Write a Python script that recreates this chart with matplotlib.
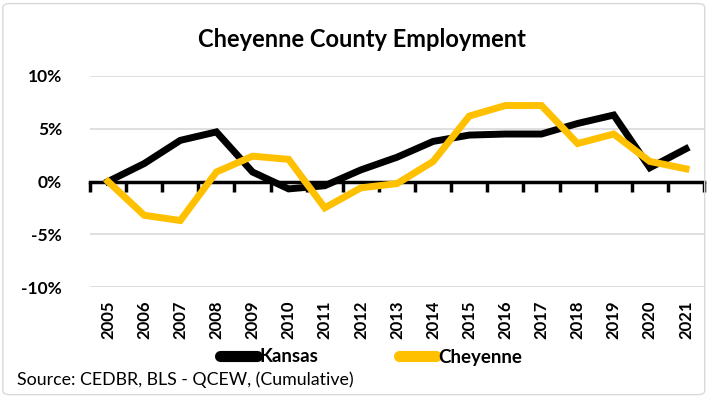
import matplotlib.pyplot as plt
import matplotlib.transforms as mtransforms
from matplotlib.lines import Line2D
from matplotlib.patches import FancyBboxPatch
from matplotlib.ticker import FuncFormatter

years = ['2005', '2006', '2007', '2008', '2009', '2010', '2011', '2012', '2013',
         '2014', '2015', '2016', '2017', '2018', '2019', '2020', '2021']
kansas = [0.0, 1.7, 3.9, 4.7, 0.9, -0.7, -0.4, 1.1, 2.3,
          3.8, 4.4, 4.5, 4.5, 5.5, 6.3, 1.3, 3.1]
cheyenne = [0.0, -3.2, -3.7, 0.9, 2.4, 2.1, -2.5, -0.6, -0.2,
            1.9, 6.2, 7.2, 7.2, 3.6, 4.5, 1.9, 1.2]
yticks = [-10, -5, 0, 5, 10]

KS_COLOR = 'black'
CH_COLOR = '#FFC000'

plt.rcParams['font.family'] = ['Lato', 'DejaVu Sans']

fig = plt.figure(figsize=(7.09, 3.97), dpi=100)
ax = fig.add_axes([90 / 709, 1 - 287 / 397, 614 / 709, 211 / 397])

x = list(range(len(years)))
ax.plot(x, kansas, color=KS_COLOR, linewidth=5, solid_joinstyle='miter', zorder=3)
ax.plot(x, cheyenne, color=CH_COLOR, linewidth=5, solid_joinstyle='miter', zorder=4)

ax.set_xlim(-0.5, len(years) - 0.5)
ax.set_ylim(-10, 10)
ax.set_yticks(yticks)
ax.yaxis.set_major_formatter(FuncFormatter(lambda v, p: f'{v:.0f}%'))
ax.tick_params(axis='y', length=0, pad=20, labelsize=12.5, labelcolor='black')
for lbl in ax.get_yticklabels():
    lbl.set_fontweight('bold')
ax.grid(axis='y', color='#d9d9d9', linewidth=1.2, zorder=0)

for side in ['top', 'right', 'left']:
    ax.spines[side].set_visible(False)

# category axis crosses at zero, tick marks between categories
ax.spines['bottom'].set_position(('data', 0))
ax.spines['bottom'].set_linewidth(2.5)
ax.spines['bottom'].set_zorder(2)
ax.set_xticks([i - 0.5 for i in range(len(years) + 1)])
ax.set_xticklabels([])
ax.tick_params(axis='x', direction='out', length=7, width=2.5, color='black')

# year labels sit below the plot area
trans = mtransforms.blended_transform_factory(ax.transData, ax.transAxes)
for i, yr in enumerate(years):
    ax.text(i, -0.065, yr, transform=trans, rotation=90, ha='center', va='top',
            fontsize=12, fontweight='bold')

fig.text(0.51, 0.90, 'Cheyenne County Employment', ha='center', va='center',
         fontsize=17, fontweight='bold')

handles = [Line2D([], [], color=KS_COLOR, linewidth=8, solid_capstyle='round'),
           Line2D([], [], color=CH_COLOR, linewidth=8, solid_capstyle='round')]
leg = fig.legend(handles, ['Kansas', 'Cheyenne'], loc='center',
                 bbox_to_anchor=(0.523, 1 - 357 / 397), ncol=2, frameon=False,
                 prop={'size': 13.5, 'weight': 'bold'}, handlelength=2.0,
                 handletextpad=0.1, columnspacing=4.3)

fig.text(17 / 709, 1 - 380 / 397, 'Source: CEDBR, BLS - QCEW, (Cumulative)',
         ha='left', va='center', fontsize=12.8)

border = FancyBboxPatch((0.004, 0.006), 0.99, 0.985, boxstyle='round,pad=0,rounding_size=0.01',
                        transform=fig.transFigure, facecolor='none', edgecolor='#d9d9d9',
                        linewidth=1)
fig.patches.append(border)

fig.savefig('out.png', dpi=100)
